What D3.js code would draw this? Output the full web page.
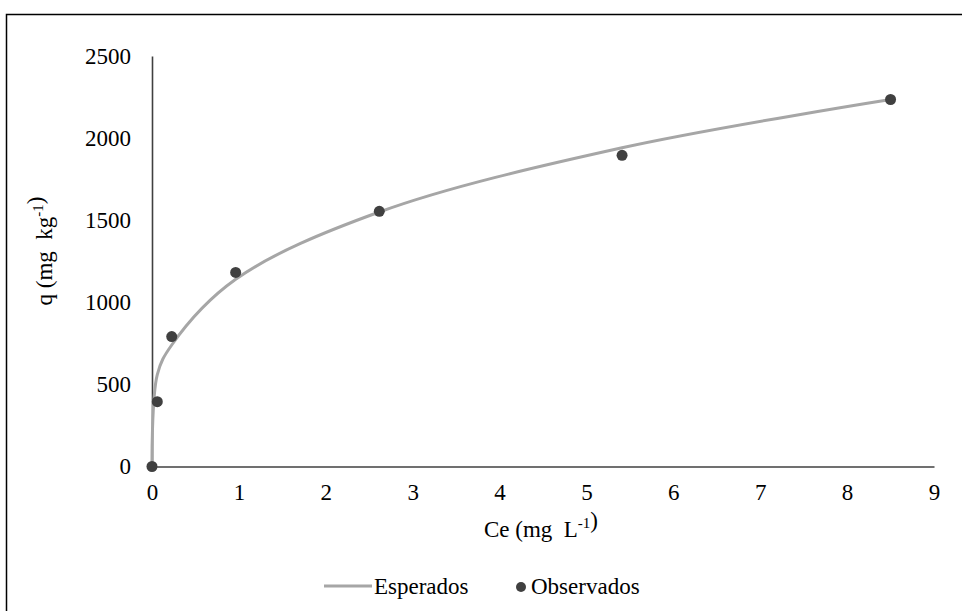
<!DOCTYPE html>
<html>
<head>
<meta charset="utf-8">
<script src="https://cdn.jsdelivr.net/npm/d3@7"></script>
<style>
  html, body { margin: 0; padding: 0; background: #fff; }
  svg { display: block; }
  svg text { font-family: "Liberation Serif", "Times New Roman", Times, serif !important; fill: #000; }
</style>
</head>
<body>
<svg id="chart" width="962" height="611"></svg>
<script>
// Equilibrium concentration (mg L-1) and adsorbed amount (mg kg-1)
const ceValues = [0, 0.061, 0.227, 0.963, 2.616, 5.41, 8.50];
const qObserved = [0, 395, 791, 1182, 1554, 1895, 2235];
const qExpected = [0, 560, 740, 1140, 1550, 1941, 2235];
const xTicks = [0, 1, 2, 3, 4, 5, 6, 7, 8, 9];
const yTicks = [0, 500, 1000, 1500, 2000, 2500];
const seriesNames = ["Esperados", "Observados"];

const svg = d3.select("#chart");
const fontSize = 23;
const serif = "'Liberation Serif', 'Times New Roman', serif";

// outer frame
svg.append("rect")
  .attr("x", 6.5).attr("y", 14.5)
  .attr("width", 970).attr("height", 620)
  .attr("fill", "none").attr("stroke", "#000").attr("stroke-width", 1.5);

const x = d3.scaleLinear().domain([0, 9]).range([152, 934]);
const y = d3.scaleLinear().domain([0, 2500]).range([466.5, 56]);

// axes without tick marks
const xAxis = svg.append("g").attr("transform", `translate(0,${y(0)})`)
  .call(d3.axisBottom(x).tickValues(xTicks).tickSize(0).tickPadding(17).tickFormat(d3.format("d")));
const yAxis = svg.append("g").attr("transform", `translate(${x(0)},0)`)
  .call(d3.axisLeft(y).tickValues(yTicks).tickSize(0).tickPadding(21).tickFormat(d3.format("d")));
[xAxis, yAxis].forEach(g => {
  g.attr("font-family", null);
  g.select(".domain").attr("stroke", "#404040").attr("stroke-width", 1.6);
  g.selectAll("text").style("font-family", serif)
    .attr("font-size", fontSize).attr("fill", "#000");
});

// expected curve
const pts = ceValues.map((c, i) => [x(c), y(qExpected[i])]);
svg.append("path")
  .attr("d", d3.line().curve(d3.curveCatmullRom.alpha(0.5))(pts))
  .attr("fill", "none").attr("stroke", "#a6a6a6").attr("stroke-width", 3);

// observed points
svg.append("g").selectAll("circle")
  .data(ceValues.map((c, i) => [c, qObserved[i]]))
  .join("circle")
  .attr("cx", d => x(d[0])).attr("cy", d => y(d[1]))
  .attr("r", 5.5).attr("fill", "#404040");

// axis titles with superscripts
function titled(sel, parts) {
  parts.forEach(p => {
    if (p.sup) {
      sel.append("tspan").attr("dy", -9).attr("font-size", 15).text(p.t);
      sel.append("tspan").attr("dy", 9).text("");
    } else {
      sel.append("tspan").text(p.t);
    }
  });
}

const xt = svg.append("text")
  .attr("x", 541).attr("y", 537)
  .attr("text-anchor", "middle").attr("font-size", fontSize)
  .style("font-family", serif)
  .attr("xml:space", "preserve");
titled(xt, [{t: "Ce (mg  L"}, {t: "-1", sup: true}, {t: ")"}]);

const yt = svg.append("text")
  .attr("transform", "translate(52,251) rotate(-90)")
  .attr("text-anchor", "middle").attr("font-size", fontSize)
  .style("font-family", serif)
  .attr("xml:space", "preserve");
titled(yt, [{t: "q (mg  kg"}, {t: "-1", sup: true}, {t: ")"}]);

// legend
const legY = 586;
const leg = svg.append("g");
leg.append("line")
  .attr("x1", 324).attr("x2", 372).attr("y1", legY).attr("y2", legY)
  .attr("stroke", "#a6a6a6").attr("stroke-width", 3);
leg.append("text").attr("x", 374).attr("y", legY + 8)
  .style("font-family", serif)
  .attr("font-size", fontSize).text(seriesNames[0]);
leg.append("circle").attr("cx", 521).attr("cy", legY + 1).attr("r", 5).attr("fill", "#404040");
leg.append("text").attr("x", 531).attr("y", legY + 8)
  .style("font-family", serif)
  .attr("font-size", fontSize).text(seriesNames[1]);
</script>
</body>
</html>
